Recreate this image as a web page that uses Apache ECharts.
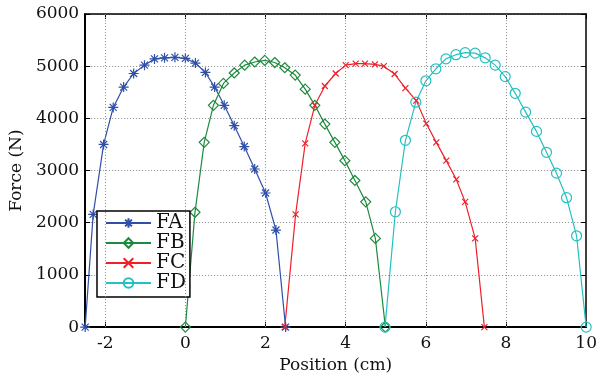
<!DOCTYPE html>
<html>
<head>
<meta charset="utf-8">
<script src="https://cdn.jsdelivr.net/npm/echarts@6/dist/echarts.min.js"></script>
<style>
  html, body { margin: 0; padding: 0; background: #fff; }
  #chart { width: 600px; height: 379px; }
</style>
</head>
<body>
<div id="chart"></div>
<script>
// x positions (cm) and force (N) for each series
const faX = [-2.5, -2.3, -2.04, -1.8, -1.54, -1.29, -1.02, -0.77, -0.52, -0.26, 0, 0.25, 0.5, 0.73, 0.97, 1.22, 1.47, 1.73, 2.0, 2.26, 2.5];
const faY = [0, 2160, 3500, 4210, 4600, 4860, 5020, 5140, 5160, 5170, 5150, 5060, 4880, 4600, 4250, 3860, 3460, 3030, 2570, 1860, 0];
const fbX = [0, 0.24, 0.47, 0.7, 0.95, 1.22, 1.48, 1.73, 1.98, 2.23, 2.48, 2.74, 2.99, 3.23, 3.48, 3.73, 3.98, 4.23, 4.5, 4.74, 4.99];
const fbY = [0, 2200, 3540, 4250, 4670, 4870, 5020, 5080, 5110, 5070, 4970, 4830, 4560, 4250, 3890, 3540, 3190, 2810, 2400, 1700, 0];
const fcX = [2.48, 2.75, 2.99, 3.23, 3.48, 3.75, 4.0, 4.25, 4.48, 4.73, 4.95, 5.22, 5.49, 5.76, 6.01, 6.26, 6.51, 6.76, 6.98, 7.23, 7.46];
const fcY = [0, 2160, 3520, 4250, 4620, 4860, 5020, 5050, 5050, 5035, 5000, 4850, 4580, 4340, 3900, 3540, 3190, 2830, 2400, 1700, 0];
const fdX = [4.98, 5.24, 5.49, 5.75, 6.0, 6.25, 6.5, 6.75, 6.98, 7.23, 7.48, 7.73, 7.98, 8.23, 8.49, 8.76, 9.01, 9.26, 9.51, 9.76, 10];
const fdY = [0, 2210, 3580, 4310, 4720, 4950, 5140, 5220, 5260, 5250, 5160, 5020, 4800, 4480, 4120, 3750, 3350, 2950, 2480, 1750, 0];

const xTicks = [-2, 0, 2, 4, 6, 8, 10];
const names = ['FA', 'FB', 'FC', 'FD'];

const FONT = 'DejaVu Serif';
const zip = (xs, ys) => xs.map((x, i) => [x, ys[i]]);

// matlab-ish marker shapes (stroked only)
const ASTERISK = 'path://M0,5L10,5M5,0L5,10M1.5,1.5L8.5,8.5M8.5,1.5L1.5,8.5';
const CROSS = 'path://M0,0L10,10M10,0L0,10';

const mk = (name, data, color, symbol, size) => ({
  name,
  type: 'line',
  data,
  symbol,
  symbolSize: size,
  showAllSymbol: true,
  animation: false,
  lineStyle: { color, width: 1.2 },
  itemStyle: { color: 'rgba(255,255,255,0)', borderColor: color, borderWidth: 1.2 },
  emphasis: { disabled: true },
  z: 3,
});

const chart = echarts.init(document.getElementById('chart'));

const gridLine = { show: true, lineStyle: { color: '#888', type: [1, 2], width: 1 } };

chart.setOption({
  backgroundColor: '#fff',
  animation: false,
  grid: { left: 85, right: 12, top: 14, bottom: 48 },
  legend: {
    orient: 'vertical',
    left: 97,
    top: 211,
    data: names,
    backgroundColor: '#fff',
    borderColor: '#000',
    borderWidth: 1.5,
    borderRadius: 0,
    padding: [2, 4, 4, 8],
    itemWidth: 45,
    itemHeight: 12,
    itemGap: 0,
    textStyle: { fontFamily: FONT, fontSize: 20, color: '#111' },
  },
  xAxis: [
    {
      type: 'value',
      min: -2.5,
      max: 10,
      name: 'Position (cm)',
      nameLocation: 'middle',
      nameGap: 28,
      nameTextStyle: { fontFamily: FONT, fontSize: 17, color: '#111' },
      axisLine: { onZero: false, lineStyle: { color: '#000', width: 2 } },
      axisTick: { inside: true, length: 5, customValues: xTicks, lineStyle: { color: '#000' } },
      axisLabel: { customValues: xTicks, fontFamily: FONT, fontSize: 17, color: '#111', margin: 8 },
      splitLine: { show: false },
    },
    {
      type: 'value',
      position: 'top',
      min: -2.5,
      max: 10,
      axisLine: { onZero: false, lineStyle: { color: '#000', width: 1.5 } },
      axisTick: { inside: true, length: 5, customValues: xTicks, lineStyle: { color: '#000' } },
      axisLabel: { show: false },
      splitLine: { show: false },
    },
  ],
  yAxis: [
    {
      type: 'value',
      min: 0,
      max: 6000,
      interval: 1000,
      name: 'Force (N)',
      nameLocation: 'middle',
      nameGap: 60,
      nameTextStyle: { fontFamily: FONT, fontSize: 17, color: '#111' },
      axisLine: { show: true, onZero: false, lineStyle: { color: '#000', width: 2 } },
      axisTick: { show: true, inside: true, length: 5, lineStyle: { color: '#000' } },
      axisLabel: { fontFamily: FONT, fontSize: 17, color: '#111', margin: 6, formatter: (v) => String(v) },
      splitLine: gridLine,
    },
    {
      type: 'value',
      position: 'right',
      min: 0,
      max: 6000,
      interval: 1000,
      axisLine: { show: true, onZero: false, lineStyle: { color: '#000', width: 1.5 } },
      axisTick: { show: true, inside: true, length: 5, lineStyle: { color: '#000' } },
      axisLabel: { show: false },
      splitLine: { show: false },
    },
  ],
  series: [
    // vertical grid lines at the labelled x ticks
    {
      type: 'line',
      data: [],
      silent: true,
      markLine: {
        symbol: 'none',
        silent: true,
        label: { show: false },
        lineStyle: { color: '#888', type: [1, 2], width: 1 },
        data: xTicks.slice(0, -1).map((x) => ({ xAxis: x })),
      },
      z: 1,
    },
    mk('FA', zip(faX, faY), '#2f4fa8', ASTERISK, 10),
    mk('FB', zip(fbX, fbY), '#1d8a3e', 'diamond', 10),
    mk('FC', zip(fcX, fcY), '#f0202a', CROSS, 6),
    mk('FD', zip(fdX, fdY), '#25c0c0', 'circle', 10),
  ],
});
</script>
</body>
</html>
